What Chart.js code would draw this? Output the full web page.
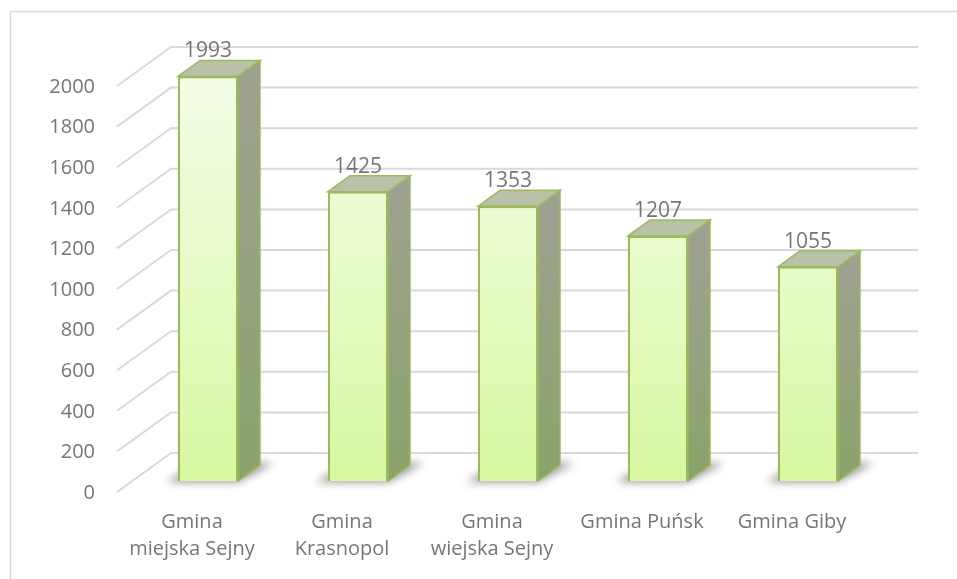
<!DOCTYPE html>
<html>
<head>
<meta charset="utf-8">
<script src="https://cdn.jsdelivr.net/npm/chart.js@4"></script>
<style>
  html, body { margin: 0; padding: 0; background: #fff; }
  #wrap { width: 957px; height: 579px; position: relative; }
</style>
</head>
<body>
<div id="wrap"><canvas id="chart"></canvas></div>
<script>
const labels = [
  ['Gmina', 'miejska Sejny'],
  ['Gmina', 'Krasnopol'],
  ['Gmina', 'wiejska Sejny'],
  'Gmina Puńsk',
  'Gmina Giby'
];
const values = [1993, 1425, 1353, 1207, 1055];
const yMax = 2000;
const yStep = 200;

const textColor = '#767676';
const gridColor = '#d9d9d9';
const edgeColor = '#9bbb59';
const fontFamily = '"Open Sans", "Noto Sans", sans-serif';

// 3d depth of the bars and of the wall
const depthX = 22, depthY = -16;

const box3d = {
  id: 'box3d',
  beforeDraw(chart) {
    const ctx = chart.ctx;
    ctx.save();
    // outer frame
    ctx.strokeStyle = gridColor;
    ctx.lineWidth = 1.5;
    ctx.strokeRect(10.5, 11.5, 980, 620);
    ctx.restore();
  },
  beforeDatasetsDraw(chart) {
    const ctx = chart.ctx;
    const y = chart.scales.y;
    ctx.save();
    // walls: diagonal + back gridline
    ctx.strokeStyle = gridColor;
    ctx.lineWidth = 2;
    for (let v = 0; v <= yMax; v += yStep) {
      const yb = y.getPixelForValue(v);
      ctx.beginPath();
      ctx.moveTo(117, yb + 11);
      ctx.lineTo(171, yb - 28);
      ctx.lineTo(918, yb - 28);
      ctx.stroke();
    }
    const meta = chart.getDatasetMeta(0);
    meta.data.forEach((bar) => {
      const x0 = bar.x - bar.width / 2;
      const x1 = bar.x + bar.width / 2;
      const top = bar.y, base = bar.base;
      // floor shadow
      ctx.save();
      ctx.filter = 'blur(4px)';
      ctx.fillStyle = 'rgba(60,60,60,0.55)';
      ctx.beginPath();
      ctx.moveTo(x0 - 12, base + 1);
      ctx.lineTo(x1, base + 1);
      ctx.lineTo(x1 + depthX + 14, base + depthY - 2);
      ctx.lineTo(x0 + depthX, base + depthY - 2);
      ctx.closePath();
      ctx.fill();
      ctx.restore();
      // side face
      const sg = ctx.createLinearGradient(0, top, 0, base);
      sg.addColorStop(0, '#9ea191');
      sg.addColorStop(1, '#8aa36a');
      ctx.fillStyle = sg;
      ctx.strokeStyle = edgeColor;
      ctx.lineWidth = 1.5;
      ctx.beginPath();
      ctx.moveTo(x1, top);
      ctx.lineTo(x1 + depthX, top + depthY);
      ctx.lineTo(x1 + depthX, base + depthY);
      ctx.lineTo(x1, base);
      ctx.closePath();
      ctx.fill();
      ctx.stroke();
      // top face
      ctx.fillStyle = '#b9c1aa';
      ctx.beginPath();
      ctx.moveTo(x0, top);
      ctx.lineTo(x0 + depthX, top + depthY);
      ctx.lineTo(x1 + depthX, top + depthY);
      ctx.lineTo(x1, top);
      ctx.closePath();
      ctx.fill();
      ctx.stroke();
    });
    ctx.restore();
  },
  afterDatasetsDraw(chart) {
    const ctx = chart.ctx;
    const meta = chart.getDatasetMeta(0);
    ctx.save();
    ctx.font = '21px ' + fontFamily;
    ctx.fillStyle = textColor;
    ctx.textAlign = 'center';
    ctx.textBaseline = 'middle';
    meta.data.forEach((bar, i) => {
      ctx.fillText(values[i], bar.x, bar.y - 25);
    });
    ctx.restore();
  }
};

new Chart(document.getElementById('chart'), {
  type: 'bar',
  data: {
    labels: labels,
    datasets: [{
      data: values,
      backgroundColor: (c) => {
        const area = c.chart.chartArea;
        if (!area) return '#e6fbc4';
        const g = c.chart.ctx.createLinearGradient(0, area.top, 0, area.bottom);
        g.addColorStop(0, '#f4fde8');
        g.addColorStop(1, '#d8f8a2');
        return g;
      },
      borderColor: edgeColor,
      borderWidth: 2,
      categoryPercentage: 1,
      barPercentage: 0.4
    }]
  },
  options: {
    responsive: true,
    maintainAspectRatio: false,
    animation: false,
    layout: {
      padding: { left: 0, right: 74, top: 75, bottom: 0 }
    },
    plugins: {
      legend: { display: false },
      tooltip: { enabled: false }
    },
    scales: {
      x: {
        grid: { display: false, drawTicks: false },
        border: { display: false },
        afterFit: (scale) => { scale.height = 98; },
        ticks: {
          color: textColor,
          font: { family: fontFamily, size: 20, lineHeight: 1.35 },
          padding: 28,
          labelOffset: -16,
          maxRotation: 0,
          autoSkip: false
        }
      },
      y: {
        min: 0,
        max: yMax,
        grid: { display: false, drawTicks: false },
        border: { display: false },
        afterFit: (scale) => { scale.width = 133; },
        ticks: {
          stepSize: yStep,
          color: textColor,
          font: { family: fontFamily, size: 20 },
          padding: 38,
          labelOffset: 12,
          callback: (v) => String(v)
        }
      }
    }
  },
  plugins: [box3d]
});
</script>
</body>
</html>
